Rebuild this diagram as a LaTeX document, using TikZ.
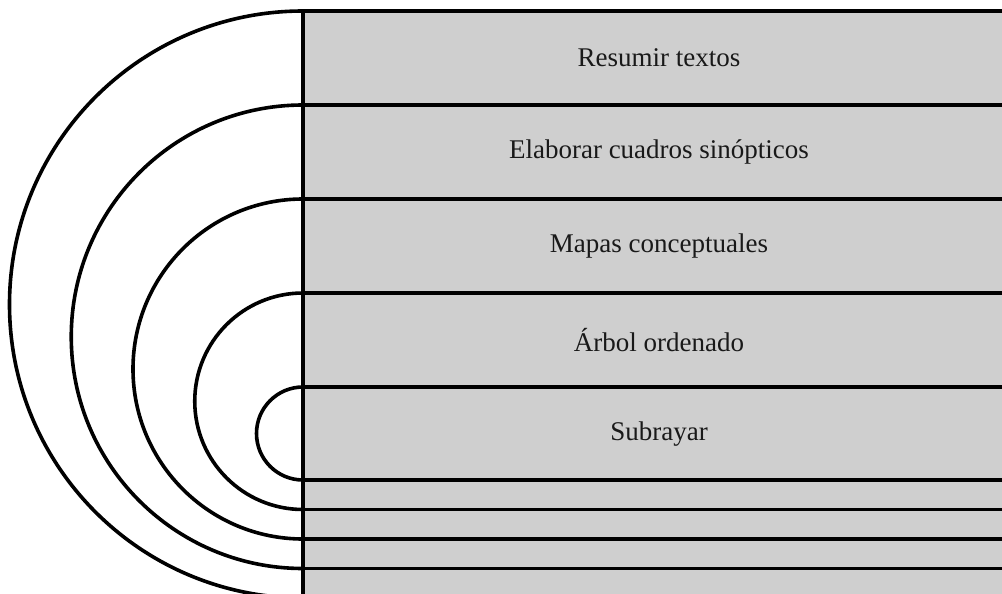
\documentclass[tikz,border=0pt]{standalone}
\usepackage{fontspec}
\setmainfont{Liberation Serif}
\usepackage{tikz}
\usetikzlibrary{positioning}
\definecolor{bandgray}{RGB}{207,207,207}
\tikzstyle{line} = [line width=3.6pt, black]
\tikzstyle{etiqueta} = [font=\fontsize{27}{32}\selectfont, text=black!90]

\begin{document}
\begin{tikzpicture}[x=1pt,y=-1pt]
	\useasboundingbox (0,0) rectangle (1002,594);
	\clip (0,0) rectangle (1002,594);

	% Fondo
	\fill[bandgray] (303,11) rectangle (1002,594);

	% Arcos
	\draw[line] (303,11)  arc[start angle=90, end angle=270, radius=293.5pt];
	\draw[line] (303,105) arc[start angle=90, end angle=270, radius=231.75pt];
	\draw[line] (303,199) arc[start angle=90, end angle=270, radius=170pt];
	\draw[line] (303,293) arc[start angle=90, end angle=270, radius=108.25pt];
	\draw[line] (303,387) arc[start angle=90, end angle=270, radius=46.5pt];

	% Franjas
	\draw[line] (303,11)  -- (1002,11);
	\draw[line] (303,105) -- (1002,105);
	\draw[line] (303,199) -- (1002,199);
	\draw[line] (303,293) -- (1002,293);
	\draw[line] (303,387) -- (1002,387);
	\draw[line] (303,480) -- (1002,480);
	\draw[line] (303,509.5) -- (1002,509.5);
	\draw[line] (303,539) -- (1002,539);
	\draw[line] (303,568.5) -- (1002,568.5);
	\draw[line] (303,9.2) -- (303,594);

	% Textos
	\node[etiqueta] (resumir)  at (659,58)  {Resumir textos};
	\node[etiqueta] (cuadros)  at (659,152) {Elaborar cuadros sinópticos};
	\node[etiqueta] (mapas)    at (659,246) {Mapas conceptuales};
	\node[etiqueta] (arbol)    at (659,340) {Árbol ordenado};
	\node[etiqueta] (subrayar) at (659,434) {Subrayar};
\end{tikzpicture}
\end{document}
